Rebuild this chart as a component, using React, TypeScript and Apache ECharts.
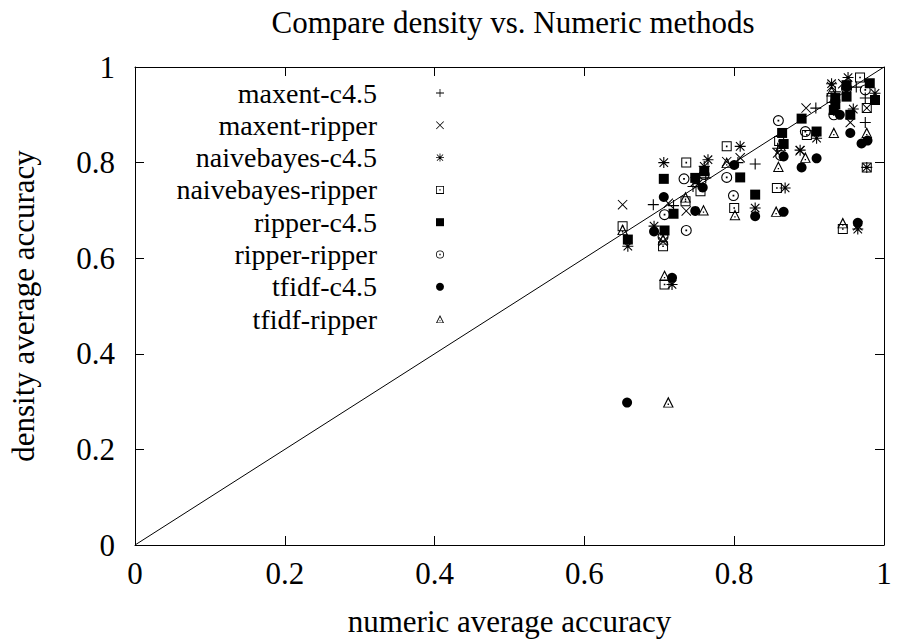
import React, { useEffect, useRef } from "react";
import * as echarts from "echarts";

const TITLE = "Compare density vs. Numeric methods";
const X_NAME = "numeric average accuracy";
const Y_NAME = "density average accuracy";
const AXIS_MIN = 0;
const AXIS_MAX = 1;
const AXIS_STEP = 0.2;

const SERIES_NAMES = [
  "maxent-c4.5",
  "maxent-ripper",
  "naivebayes-c4.5",
  "naivebayes-ripper",
  "ripper-c4.5",
  "ripper-ripper",
  "tfidf-c4.5",
  "tfidf-ripper",
];

const maxentC45 = [
  [0.692, 0.712], [0.719, 0.71], [0.745, 0.75], [0.762, 0.768], [0.805, 0.8],
  [0.828, 0.797], [0.858, 0.83], [0.909, 0.914], [0.935, 0.948], [0.963, 0.958],
  [0.975, 0.884], [0.975, 0.935],
];
const maxentRipper = [
  [0.651, 0.712], [0.705, 0.635], [0.712, 0.715], [0.736, 0.699], [0.748, 0.76],
  [0.79, 0.802], [0.808, 0.81], [0.858, 0.82], [0.888, 0.825], [0.896, 0.914],
  [0.93, 0.959], [0.945, 0.965], [0.955, 0.884], [0.977, 0.914], [0.965, 0.668],
];
const naivebayesC45 = [
  [0.658, 0.625], [0.693, 0.667], [0.717, 0.545], [0.706, 0.8], [0.752, 0.756],
  [0.76, 0.792], [0.765, 0.806], [0.808, 0.834], [0.828, 0.705], [0.868, 0.747],
  [0.888, 0.826], [0.91, 0.851], [0.93, 0.965], [0.952, 0.978], [0.959, 0.912],
  [0.988, 0.945], [0.965, 0.661], [0.977, 0.79],
];
const naivebayesRipper = [
  [0.651, 0.667], [0.705, 0.625], [0.707, 0.545], [0.735, 0.719], [0.736, 0.8],
  [0.755, 0.74], [0.79, 0.834], [0.8, 0.705], [0.857, 0.747], [0.86, 0.845],
  [0.897, 0.858], [0.93, 0.935], [0.945, 0.661], [0.968, 0.978], [0.977, 0.914],
  [0.977, 0.79],
];
const ripperC45 = [
  [0.658, 0.639], [0.707, 0.658], [0.719, 0.693], [0.706, 0.766], [0.748, 0.768],
  [0.76, 0.782], [0.808, 0.769], [0.828, 0.733], [0.864, 0.862], [0.866, 0.839],
  [0.89, 0.892], [0.91, 0.865], [0.935, 0.935], [0.935, 0.922], [0.933, 0.91],
  [0.95, 0.962], [0.95, 0.938], [0.955, 0.9], [0.981, 0.966], [0.988, 0.931],
];
const ripperRipper = [
  [0.705, 0.645], [0.707, 0.691], [0.733, 0.766], [0.736, 0.658], [0.76, 0.775],
  [0.79, 0.769], [0.799, 0.731], [0.859, 0.888], [0.862, 0.815], [0.895, 0.865],
  [0.933, 0.9], [0.95, 0.955], [0.975, 0.952],
];
const tfidfC45 = [
  [0.657, 0.298], [0.693, 0.656], [0.717, 0.559], [0.706, 0.728], [0.748, 0.699],
  [0.758, 0.748], [0.8, 0.795], [0.828, 0.688], [0.866, 0.697], [0.866, 0.813],
  [0.89, 0.79], [0.91, 0.809], [0.941, 0.9], [0.955, 0.862], [0.95, 0.958],
  [0.97, 0.84], [0.978, 0.846], [0.965, 0.674],
];
const tfidfRipper = [
  [0.712, 0.299], [0.651, 0.66], [0.707, 0.564], [0.705, 0.64], [0.735, 0.728],
  [0.759, 0.701], [0.79, 0.8], [0.801, 0.691], [0.856, 0.698], [0.859, 0.792],
  [0.862, 0.835], [0.895, 0.811], [0.93, 0.95], [0.933, 0.863], [0.945, 0.674],
  [0.977, 0.863],
];
const DIAGONAL = [[0, 0], [1, 1]];

const SERIES_DATA = [
  maxentC45, maxentRipper, naivebayesC45, naivebayesRipper,
  ripperC45, ripperRipper, tfidfC45, tfidfRipper,
];

const SYM_PLUS = "path://M45,0H55V45H100V55H55V100H45V55H0V45H45Z";
const SYM_CROSS = "path://M0,7L7,0L100,93L93,100ZM93,0L100,7L7,100L0,93Z";
const SYM_STAR =
  "path://M45,0H55V45H100V55H55V100H45V55H0V45H45ZM8,15L15,8L92,85L85,92ZM85,8L92,15L15,92L8,85Z";
const SYM_BOXDOT = "path://M0,0H100V100H0ZM10,10V90H90V10ZM42,42H58V58H42Z";
const SYM_CIRCLEDOT =
  "path://M0,50A50,50,0,1,1,100,50A50,50,0,1,1,0,50ZM10,50A40,40,0,1,0,90,50A40,40,0,1,0,10,50ZM42,42H58V58H42Z";
const SYM_TRIDOT = "path://M50,0L100,100L0,100ZM50,24L15,92H85ZM44,64H56V76H44Z";

const SYMBOLS = [SYM_PLUS, SYM_CROSS, SYM_STAR, SYM_BOXDOT, "rect", SYM_CIRCLEDOT, "circle", SYM_TRIDOT];
const SYMBOL_SIZES = [11, 10, 11, 10, 10, 11, 10, 11];

const FONT = "Liberation Serif";

export default function App() {
  const ref = useRef<HTMLDivElement>(null);
  useEffect(() => {
    if (!ref.current) return;
    const chart = echarts.init(ref.current, null, { renderer: "svg" });
    const axisCommon = {
      type: "value",
      min: AXIS_MIN,
      max: AXIS_MAX,
      interval: AXIS_STEP,
      axisLine: { show: true, onZero: false, lineStyle: { color: "#000", width: 1 } },
      axisTick: { show: true, inside: true, length: 9, lineStyle: { color: "#000", width: 1 } },
      splitLine: { show: false },
    };
    const labelStyle = { color: "#000", fontFamily: FONT, fontSize: 31 };
    chart.setOption({
      animation: false,
      backgroundColor: "#fff",
      title: {
        text: TITLE,
        left: 508,
        textAlign: "center",
        top: 2,
        textStyle: { color: "#000", fontFamily: FONT, fontSize: 31, fontWeight: "normal" },
      },
      grid: { left: 133, right: 14, top: 67, bottom: 96, containLabel: false },
      legend: {
        orient: "vertical",
        align: "right",
        right: 898 - 444,
        top: 78,
        padding: 0,
        itemWidth: 8,
        itemHeight: 8,
        itemGap: 2.3,
        data: SERIES_NAMES,
        textStyle: { color: "#000", fontFamily: FONT, fontSize: 28, lineHeight: 30, padding: [0, 54, 0, 0] },
        inactiveColor: "#000",
      },
      xAxis: [
        {
          ...axisCommon,
          position: "bottom",
          name: X_NAME,
          nameLocation: "middle",
          nameGap: 61,
          nameTextStyle: labelStyle,
          axisLabel: { ...labelStyle, margin: 13 },
        },
        { ...axisCommon, position: "top", axisLabel: { show: false } },
      ],
      yAxis: [
        {
          ...axisCommon,
          position: "left",
          name: Y_NAME,
          nameLocation: "middle",
          nameGap: 96,
          nameRotate: 90,
          nameTextStyle: labelStyle,
          axisLabel: { ...labelStyle, margin: 20 },
        },
        { ...axisCommon, position: "right", axisLabel: { show: false } },
      ],
      series: [
        {
          type: "line",
          name: "diagonal",
          data: DIAGONAL,
          symbol: "none",
          silent: true,
          lineStyle: { color: "#000", width: 1 },
          z: 1,
        },
        ...SERIES_NAMES.map((name, i) => ({
          type: "scatter",
          name,
          data: SERIES_DATA[i],
          symbol: SYMBOLS[i],
          symbolSize: SYMBOL_SIZES[i],
          itemStyle: { color: "#000", opacity: 1 },
          z: 2 + i,
        })),
      ],
    });
    return () => chart.dispose();
  }, []);
  return (
    <div
      ref={ref}
      style={{ position: "fixed", left: 0, top: 0, width: 898, height: 642, background: "#fff" }}
    />
  );
}
